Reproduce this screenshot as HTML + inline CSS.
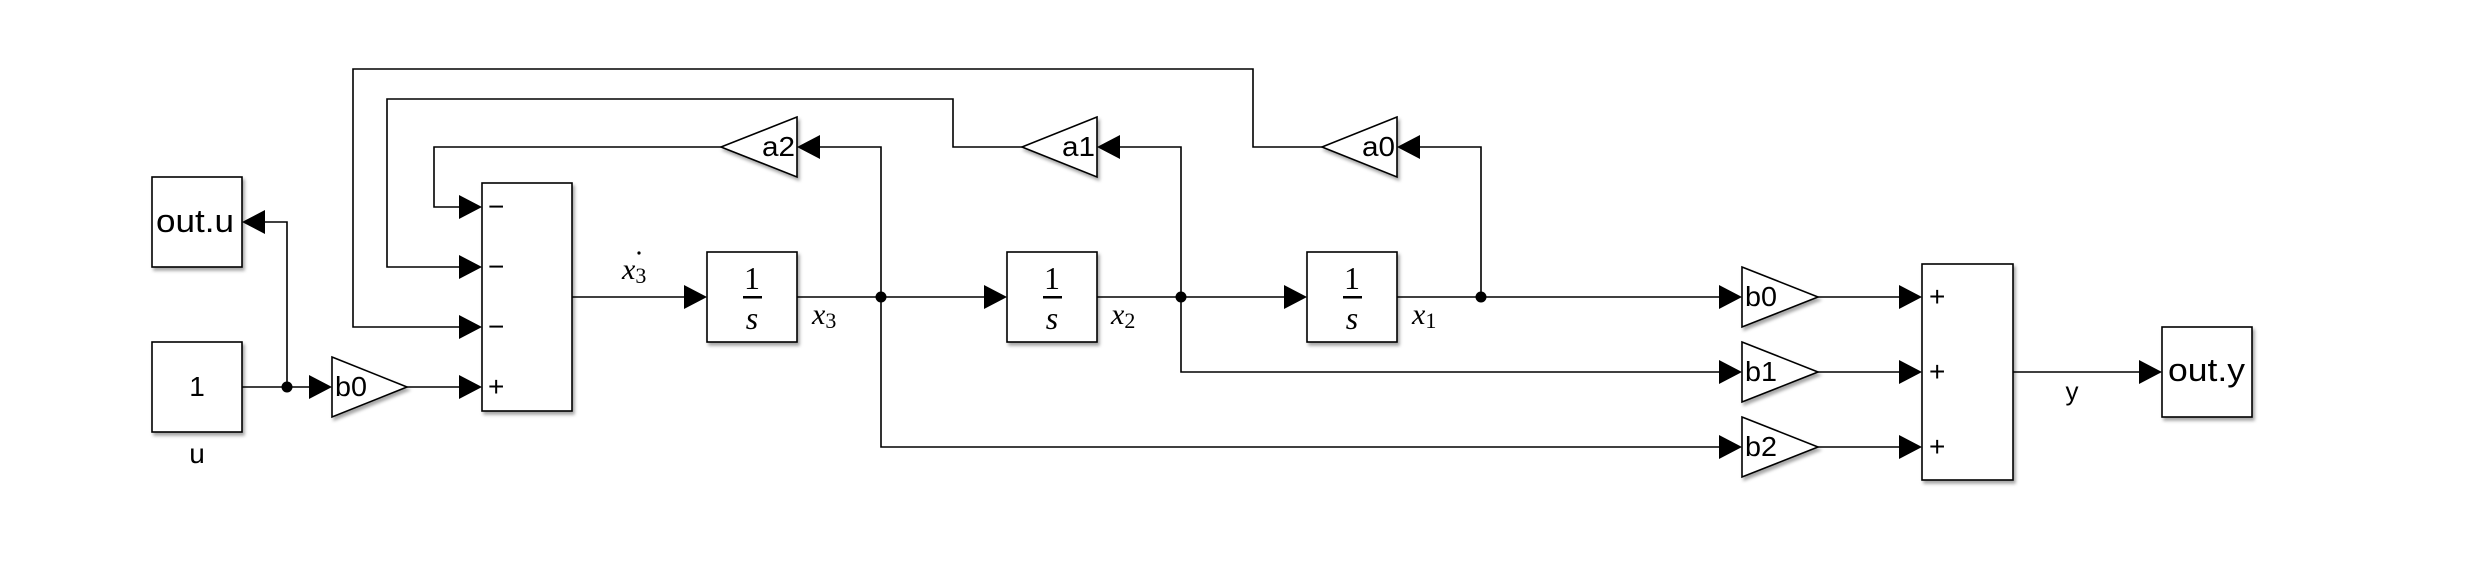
<!DOCTYPE html>
<html><head><meta charset="utf-8"><style>
html,body{margin:0;padding:0;background:#fff;}
svg{display:block}
.s{font-family:"Liberation Sans",sans-serif;}
.m{font-family:"Liberation Serif",serif;}
</style></head><body>
<svg width="2476" height="578" viewBox="0 0 2476 578" xmlns="http://www.w3.org/2000/svg">
<defs>
<filter id="sh" x="-10%" y="-10%" width="130%" height="130%">
<feDropShadow dx="2" dy="3" stdDeviation="1.5" flood-color="#000" flood-opacity="0.35"/>
</filter>
</defs>
<g fill="none" stroke="#000" stroke-width="1.6">
<!-- u to junctions -->
<polyline points="242,387 310,387"/>
<polyline points="287,387 287,222 265,222"/>
<polyline points="407,387 460,387"/>
<!-- sum out -->
<polyline points="572,297 685,297"/>
<polyline points="797,297 985,297"/>
<polyline points="1097,297 1285,297"/>
<polyline points="1397,297 1720,297"/>
<!-- feedback -->
<polyline points="881,297 881,147 820,147"/>
<polyline points="721,147 434,147 434,207 460,207"/>
<polyline points="1181,297 1181,147 1120,147"/>
<polyline points="1022,147 953,147 953,99 387,99 387,267 460,267"/>
<polyline points="1481,297 1481,147 1420,147"/>
<polyline points="1322,147 1253,147 1253,69 353,69 353,327 460,327"/>
<!-- forward -->
<polyline points="1181,297 1181,372 1720,372"/>
<polyline points="881,297 881,447 1720,447"/>
<polyline points="1818,297 1900,297"/>
<polyline points="1818,372 1900,372"/>
<polyline points="1818,447 1900,447"/>
<polyline points="2013,372 2140,372"/>
</g>
<!-- arrows -->
<g fill="#000">
<polygon points="242,222 265,210 265,234"/>
<polygon points="332,387 309,375 309,399"/>
<polygon points="482,207 459,195 459,219"/>
<polygon points="482,267 459,255 459,279"/>
<polygon points="482,327 459,315 459,339"/>
<polygon points="482,387 459,375 459,399"/>
<polygon points="707,297 684,285 684,309"/>
<polygon points="1007,297 984,285 984,309"/>
<polygon points="1307,297 1284,285 1284,309"/>
<polygon points="797,147 820,135 820,159"/>
<polygon points="1097,147 1120,135 1120,159"/>
<polygon points="1397,147 1420,135 1420,159"/>
<polygon points="1742,297 1719,285 1719,309"/>
<polygon points="1742,372 1719,360 1719,384"/>
<polygon points="1742,447 1719,435 1719,459"/>
<polygon points="1922,297 1899,285 1899,309"/>
<polygon points="1922,372 1899,360 1899,384"/>
<polygon points="1922,447 1899,435 1899,459"/>
<polygon points="2162,372 2139,360 2139,384"/>
<circle cx="287" cy="387" r="5.5"/>
<circle cx="881" cy="297" r="5.5"/>
<circle cx="1181" cy="297" r="5.5"/>
<circle cx="1481" cy="297" r="5.5"/>
</g>
<!-- blocks -->
<g fill="#fff" stroke="#000" stroke-width="1.6" filter="url(#sh)">
<rect x="152" y="177" width="90" height="90"/>
<rect x="152" y="342" width="90" height="90"/>
<rect x="482" y="183" width="90" height="228"/>
<rect x="707" y="252" width="90" height="90"/>
<rect x="1007" y="252" width="90" height="90"/>
<rect x="1307" y="252" width="90" height="90"/>
<rect x="1922" y="264" width="91" height="216"/>
<rect x="2162" y="327" width="90" height="90"/>
<polygon points="332,357 407,387 332,417"/>
<polygon points="797,117 721,147 797,177"/>
<polygon points="1097,117 1022,147 1097,177"/>
<polygon points="1397,117 1322,147 1397,177"/>
<polygon points="1742,267 1818,297 1742,327"/>
<polygon points="1742,342 1818,372 1742,402"/>
<polygon points="1742,417 1818,447 1742,477"/>
</g>
<!-- text -->
<g class="s" fill="#000">
<text x="156" y="232" font-size="32" textLength="78" lengthAdjust="spacingAndGlyphs">out.u</text>
<text x="197" y="396" font-size="28" text-anchor="middle">1</text>
<text x="197" y="463" font-size="28" text-anchor="middle">u</text>
<text x="335" y="396" font-size="28" textLength="32" lengthAdjust="spacingAndGlyphs">b0</text>
<text x="762" y="156" font-size="28" textLength="33" lengthAdjust="spacingAndGlyphs">a2</text>
<text x="1062" y="156" font-size="28" textLength="33" lengthAdjust="spacingAndGlyphs">a1</text>
<text x="1362" y="156" font-size="28" textLength="33" lengthAdjust="spacingAndGlyphs">a0</text>
<text x="1745" y="306" font-size="28" textLength="32" lengthAdjust="spacingAndGlyphs">b0</text>
<text x="1745" y="381" font-size="28" textLength="32" lengthAdjust="spacingAndGlyphs">b1</text>
<text x="1745" y="456" font-size="28" textLength="32" lengthAdjust="spacingAndGlyphs">b2</text>
<text x="2168" y="381" font-size="32" textLength="77" lengthAdjust="spacingAndGlyphs">out.y</text>
<text x="2072" y="400" font-size="26" text-anchor="middle">y</text>
<text x="488" y="216" font-size="28">−</text>
<text x="488" y="276" font-size="28">−</text>
<text x="488" y="336" font-size="28">−</text>
<text x="488" y="396" font-size="28">+</text>
<text x="1929" y="306" font-size="28">+</text>
<text x="1929" y="381" font-size="28">+</text>
<text x="1929" y="456" font-size="28">+</text>
</g>
<g class="m" fill="#000">
<g font-size="32" text-anchor="middle">
<text x="752" y="289">1</text><text x="752" y="329" font-style="italic">s</text>
<text x="1052" y="289">1</text><text x="1052" y="329" font-style="italic">s</text>
<text x="1352" y="289">1</text><text x="1352" y="329" font-style="italic">s</text>
</g>
<rect x="743" y="296" width="19" height="2.5"/>
<rect x="1043" y="296" width="19" height="2.5"/>
<rect x="1343" y="296" width="19" height="2.5"/>
<text x="622" y="279" font-size="30" font-style="italic">x<tspan font-size="22" font-style="normal" dy="4">3</tspan></text>
<circle cx="639" cy="253" r="1.6"/>
<text x="812" y="324" font-size="30" font-style="italic">x<tspan font-size="22" font-style="normal" dy="4">3</tspan></text>
<text x="1111" y="324" font-size="30" font-style="italic">x<tspan font-size="22" font-style="normal" dy="4">2</tspan></text>
<text x="1412" y="324" font-size="30" font-style="italic">x<tspan font-size="22" font-style="normal" dy="4">1</tspan></text>
</g>
</svg>
</body></html>
